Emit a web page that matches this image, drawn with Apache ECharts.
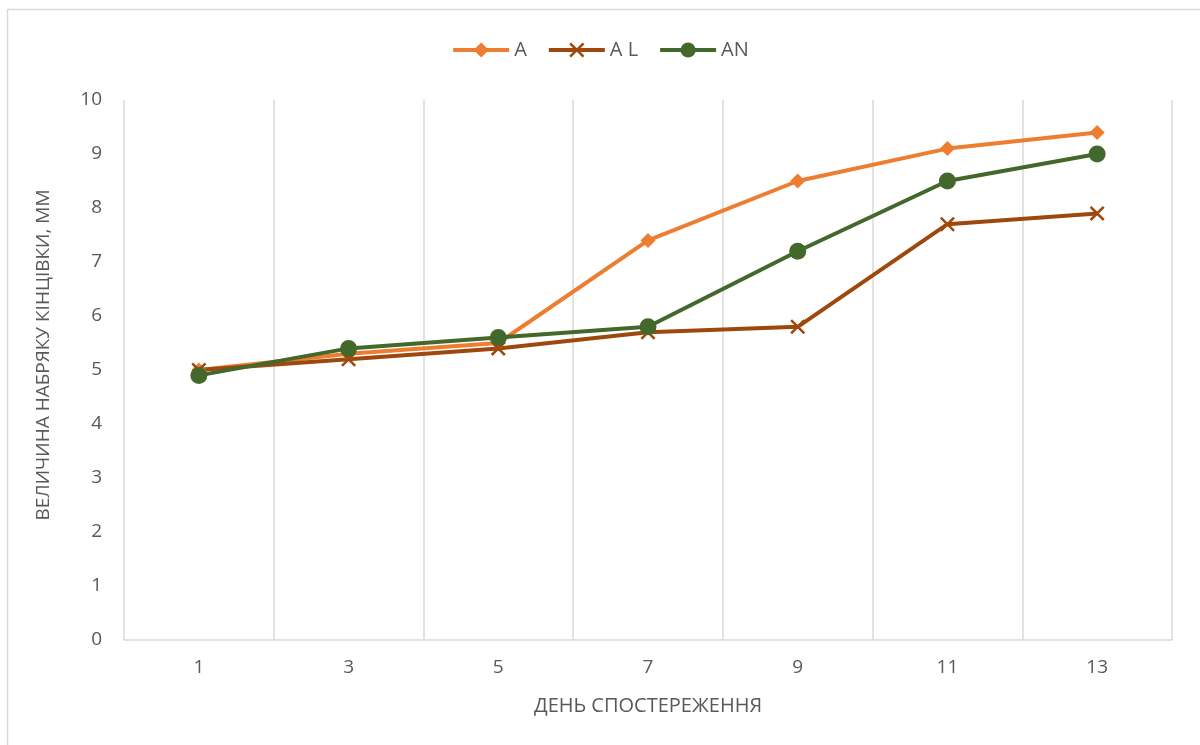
<!DOCTYPE html>
<html>
<head>
<meta charset="utf-8">
<script src="https://cdn.jsdelivr.net/npm/echarts@6/dist/echarts.min.js"></script>
<style>
html,body{margin:0;padding:0;background:#fff;}
#chart{width:1200px;height:745px;}
</style>
</head>
<body>
<div id="chart"></div>
<script>
// Observation days
const days = ['1', '3', '5', '7', '9', '11', '13'];
// Limb swelling, mm
const seriesA  = [5.0, 5.3, 5.5, 7.4, 8.5, 9.1, 9.4];
const seriesAL = [5.0, 5.2, 5.4, 5.7, 5.8, 7.7, 7.9];
const seriesAN = [4.9, 5.4, 5.6, 5.8, 7.2, 8.5, 9.0];

const seriesNames = ['A', 'A L', 'AN'];
const colors = ['#ED7D31', '#9E480E', '#43682B'];
const FONT = '"Open Sans", "Noto Sans", sans-serif';
const TEXT = '#595959';
const crossPath = 'path://M0,1.2L1.2,0L5,3.8L8.8,0L10,1.2L6.2,5L10,8.8L8.8,10L5,6.2L1.2,10L0,8.8L3.8,5Z';

const chart = echarts.init(document.getElementById('chart'), null, {renderer: 'canvas'});

function lineSeries(name, data, color, symbol, size) {
  return {
    name: name,
    type: 'line',
    data: data,
    symbol: symbol,
    symbolSize: size,
    showAllSymbol: true,
    lineStyle: {color: color, width: 4},
    itemStyle: {color: color},
    emphasis: {disabled: true},
    z: 3
  };
}

chart.setOption({
  animation: false,
  backgroundColor: '#fff',
  graphic: [{
    type: 'rect',
    shape: {x: 7.5, y: 9.5, width: 1250, height: 800},
    style: {fill: 'none', stroke: '#d9d9d9', lineWidth: 1.5},
    silent: true
  }],
  legend: {
    top: 35,
    left: 'center',
    itemWidth: 56,
    itemHeight: 19,
    itemGap: 20,
    lineStyle: {width: 4},
    textStyle: {color: TEXT, fontSize: 20, fontFamily: FONT},
    data: seriesNames
  },
  grid: {left: 124, right: 28, top: 100, bottom: 105},
  xAxis: {
    type: 'category',
    data: days,
    boundaryGap: true,
    name: 'ДЕНЬ СПОСТЕРЕЖЕННЯ',
    nameLocation: 'middle',
    nameGap: 56,
    nameTextStyle: {color: TEXT, fontSize: 20, fontFamily: FONT},
    axisLine: {show: true, lineStyle: {color: '#d9d9d9', width: 1.5}},
    axisTick: {show: false},
    axisLabel: {color: TEXT, fontSize: 19, fontFamily: FONT, margin: 18},
    splitLine: {show: true, lineStyle: {color: '#d9d9d9', width: 1.5}}
  },
  yAxis: {
    type: 'value',
    min: 0,
    max: 10,
    interval: 1,
    name: 'ВЕЛИЧИНА НАБРЯКУ КІНЦІВКИ, ММ',
    nameLocation: 'middle',
    nameGap: 71,
    nameTextStyle: {color: TEXT, fontSize: 19, fontFamily: FONT, padding: [0, 0, 0, 30]},
    axisLine: {show: false},
    axisTick: {show: false},
    axisLabel: {color: TEXT, fontSize: 19, fontFamily: FONT, margin: 22},
    splitLine: {show: false}
  },
  series: [
    lineSeries(seriesNames[0], seriesA, colors[0], 'diamond', 15),
    lineSeries(seriesNames[1], seriesAL, colors[1], crossPath, 15),
    lineSeries(seriesNames[2], seriesAN, colors[2], 'circle', 17)
  ]
});
</script>
</body>
</html>
